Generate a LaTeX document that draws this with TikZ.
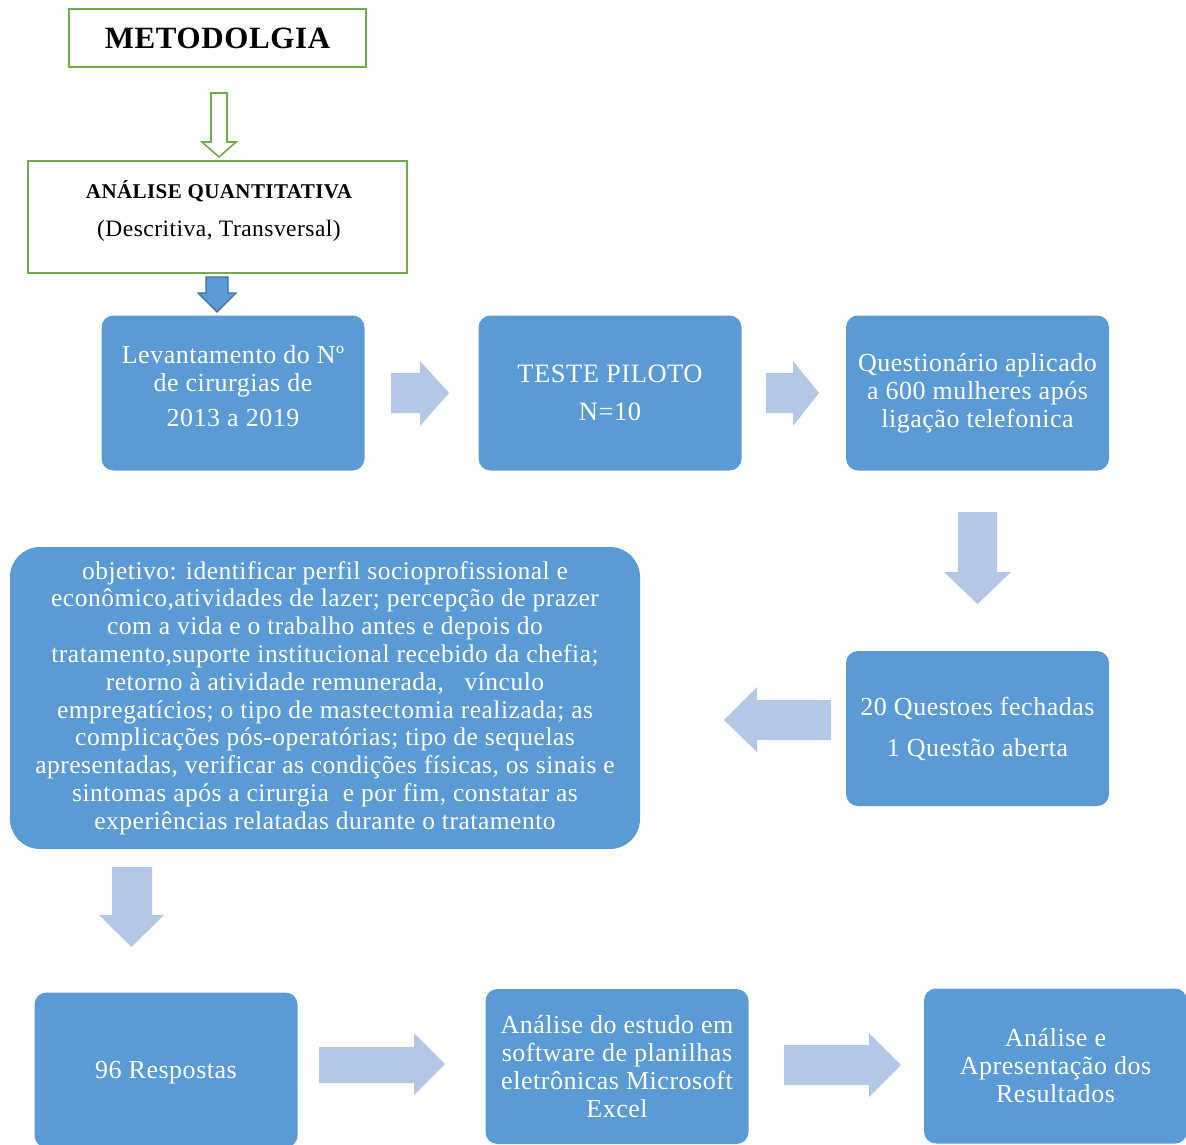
\documentclass[tikz,border=0pt]{standalone}
\usepackage{fontspec}
\setmainfont{Liberation Serif}[LetterSpace=2]
\definecolor{boxblue}{HTML}{5B9BD5}
\definecolor{arrblue}{HTML}{B4C7E7}
\definecolor{grn}{HTML}{70AD47}
\definecolor{darkblue}{HTML}{41719C}
\begin{document}
\begin{tikzpicture}[x=1pt,y=-1pt,
  bluebox/.style={rectangle,rounded corners=12pt,fill=boxblue,draw=none,text=white,
    minimum width=263pt,minimum height=155pt,inner sep=0pt,align=center,
    font=\fontsize{26}{28}\selectfont},
  greenbox/.style={rectangle,draw=grn,line width=2.2pt,fill=white,inner sep=0pt,align=center},
  lightarrow/.style={fill=arrblue,draw=none}]
\useasboundingbox (0,0) rectangle (1186,1144);
\clip (0,0) rectangle (1186,1144);

% green boxes
\node[greenbox,minimum width=297pt,minimum height=58pt,font=\fontsize{31}{34}\selectfont\bfseries] (met) at (217.5,38) {METODOLGIA};
\node[greenbox,minimum width=379pt,minimum height=112pt] (quant) at (217.5,217) {};
\node[font=\fontsize{21}{24}\selectfont\bfseries] (quantt) at (219,191) {ANÁLISE QUANTITATIVA};
\node[font=\fontsize{23.5}{26}\selectfont] (quants) at (219,231) {(Descritiva, Transversal)};

% hollow green arrow
\draw[grn,line width=1.6pt,fill=white,line join=miter] (211,93) -- (227,93) -- (227,142) -- (236,142) -- (219,157) -- (202,142) -- (211,142) -- cycle;

% small blue arrow
\draw[darkblue,line width=1.2pt,fill=boxblue,line join=miter] (206,277) -- (228,277) -- (228,293) -- (236,293) -- (217,312) -- (198,293) -- (206,293) -- cycle;

% row 1
\node[bluebox] (b1) at (233,393) {};
\node[text=white,align=center,font=\fontsize{26}{28}\selectfont] (b1t) at (233,386) {Levantamento do Nº\\de cirurgias de\\[7pt]2013 a 2019};
\node[bluebox,font=\fontsize{26.5}{38}\selectfont] (b2) at (610,393) {TESTE PILOTO\\N=10};
\node[bluebox] (b3) at (977.5,393) {Questionário aplicado\\a 600 mulheres após\\ligação telefonica};

\fill[lightarrow] (391,373) -- (420,373) -- (420,361) -- (449,393) -- (420,426) -- (420,413) -- (391,413) -- cycle;
\fill[lightarrow] (766,373) -- (793,373) -- (793,361) -- (819,393) -- (793,426) -- (793,413) -- (766,413) -- cycle;

% down arrow right
\fill[lightarrow] (958,512) -- (997,512) -- (997,572) -- (1011,572) -- (977.5,604) -- (944,572) -- (958,572) -- cycle;

\node[bluebox,font=\fontsize{26}{41}\selectfont] (b4) at (977.5,728.5) {20 Questoes fechadas\\1 Questão aberta};

% left arrow
\fill[lightarrow] (831,700) -- (757,700) -- (757,687) -- (724,720) -- (757,752) -- (757,740) -- (831,740) -- cycle;

% big box
\node[bluebox,rounded corners=30pt,minimum width=630pt,minimum height=302pt,font=\fontsize{25.5}{27.8}\selectfont] (big) at (325,698) {objetivo: identificar perfil socioprofissional e\\
econômico,atividades de lazer; percepção de prazer\\
com a vida e o trabalho antes e depois do\\
tratamento,suporte institucional recebido da chefia;\\
retorno à atividade remunerada,\ \ \ vínculo\\
empregatícios; o tipo de mastectomia realizada; as\\
complicações pós-operatórias; tipo de sequelas\\
apresentadas, verificar as condições físicas, os sinais e\\
sintomas após a cirurgia\ \ e por fim, constatar as\\
experiências relatadas durante o tratamento};

% down arrow left
\fill[lightarrow] (112,867) -- (152,867) -- (152,915) -- (164,915) -- (131.5,947) -- (99,915) -- (112,915) -- cycle;

% bottom row
\node[bluebox] (c1) at (166,1070) {};
\node[text=white,font=\fontsize{26}{28}\selectfont] (c1t) at (166,1073) {96 Respostas};
\node[bluebox] (c2) at (617,1066.5) {Análise do estudo em\\software de planilhas\\eletrônicas Microsoft\\Excel};
\node[bluebox] (c3) at (1055.5,1066) {Análise e\\Apresentação dos\\Resultados};

\fill[lightarrow] (319,1047) -- (414,1047) -- (414,1033) -- (445,1064) -- (414,1095) -- (414,1083) -- (319,1083) -- cycle;
\fill[lightarrow] (784,1045) -- (869,1045) -- (869,1033) -- (901,1065) -- (869,1097) -- (869,1085) -- (784,1085) -- cycle;
\end{tikzpicture}
\end{document}
